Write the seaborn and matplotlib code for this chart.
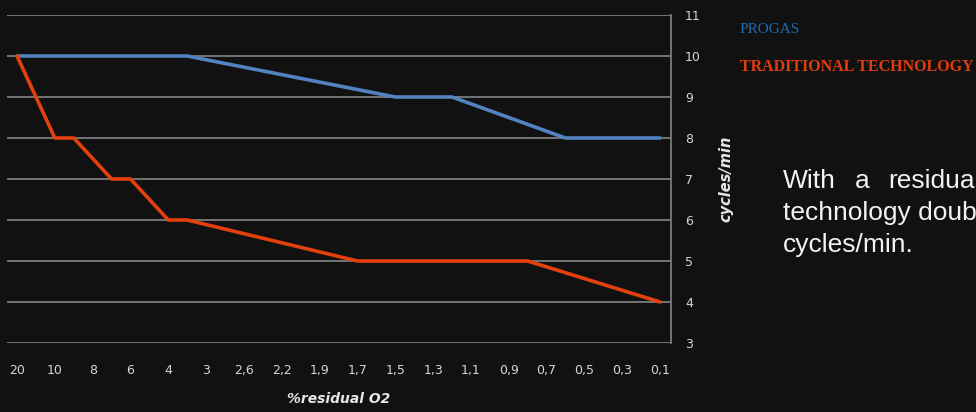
import numpy as np
import pandas as pd
import matplotlib
matplotlib.use("Agg")
import matplotlib.pyplot as plt
import seaborn as sns

# ---- data ----
categories = ["20", "15", "10", "9", "8", "7", "6", "5", "4", "3,5", "3", "2,8", "2,6", "2,4",
              "2,2", "2", "1,9", "1,8", "1,7", "1,6", "1,5", "1,4", "1,3", "1,2", "1,1", "1",
              "0,9", "0,8", "0,7", "0,6", "0,5", "0,4", "0,3", "0,2", "0,1"]
# values read at the line's vertices (None where the line just runs straight through)
progas = [10, None, None, None, None, None, None, None, None, 10, None, None, None, None,
          None, None, None, None, None, None, 9, None, None, 9, None, None,
          None, None, None, 8, None, None, None, None, 8]
traditional = [10, None, 8, 8, None, 7, 7, None, 6, 6, None, None, None, None,
               None, None, None, None, 5, None, None, None, None, None, None, None,
               None, 5, None, None, None, None, None, None, 4]
y_ticks = [3, 4, 5, 6, 7, 8, 9, 10, 11]

BG = "#111111"
BLUE = "#5282c0"
RED = "#e2400d"

sns.set_theme(style="dark")
plt.rcParams["font.family"] = ["DejaVu Sans"]

fig = plt.figure(figsize=(9.76, 4.12), dpi=100, facecolor=BG)
ax = fig.add_axes([7/976, 1-343/412, (671-7)/976, (343-15)/412])
ax.set_facecolor(BG)

pos = np.arange(len(categories))
df = pd.DataFrame({"pos": pos, "PROGAS": progas, "TRADITIONAL": traditional})
d1 = df[["pos", "PROGAS"]].dropna()
d2 = df[["pos", "TRADITIONAL"]].dropna()
sns.lineplot(data=d1, x="pos", y="PROGAS", ax=ax, color=BLUE, linewidth=2.6, zorder=3)
sns.lineplot(data=d2, x="pos", y="TRADITIONAL", ax=ax, color=RED, linewidth=2.6, zorder=4)

ax.set_xlim(-0.53, len(categories) - 1 + 0.58)
ax.set_ylim(3, 11)
ax.set_yticks(y_ticks)
ax.set_yticklabels([str(v) for v in y_ticks])
ax.yaxis.tick_right()
ax.yaxis.set_label_position("right")
ax.set_xticks(pos[::2])
ax.set_xticklabels(categories[::2])

ax.grid(False)
for v in y_ticks:
    ax.axhline(v, color="#7c7c7c", linewidth=1.3, zorder=1)
for s in ["left", "top", "bottom"]:
    ax.spines[s].set_visible(False)
ax.spines["right"].set_visible(True)
ax.spines["right"].set_color("#7c7c7c")
ax.spines["right"].set_linewidth(1.3)

ax.tick_params(axis="x", colors="#d6d6d6", labelsize=9, length=0, pad=15)
ax.tick_params(axis="y", colors="#d6d6d6", labelsize=9, length=0, pad=10)

ax.set_xlabel("%residual O2", color="#e6e6e6", fontsize=10, fontweight="bold",
              fontstyle="italic", labelpad=11)
ax.set_ylabel("cycles/min", color="#e6e6e6", fontsize=10.5, fontweight="bold",
              fontstyle="italic", labelpad=13)

fig.text(740/976, 1-33/412, "PROGAS", color="#1b6db3", fontsize=11,
         family="Liberation Serif", ha="left", va="baseline")
fig.text(740/976, 1-71/412, "TRADITIONAL TECHNOLOGY", color="#e03c0c", fontsize=11.5,
         fontweight="bold", family="Liberation Serif", ha="left", va="baseline")

# paragraph as shown in the reference (cut by the slide's right edge)
body_kw = dict(color="#f2f2f2", fontsize=19, family="Liberation Sans", va="baseline")
fig.text(783/976, 1-188/412, "With", ha="left", **body_kw)
fig.text(855/976, 1-188/412, "a", ha="left", **body_kw)
fig.text(975/976, 1-188/412, "residua", ha="right", **body_kw)
fig.text(783/976, 1-220/412, "technology doub", ha="left", **body_kw)
fig.text(783/976, 1-252/412, "cycles/min.", ha="left", **body_kw)

fig.savefig("out.png", dpi=100, facecolor=BG)
